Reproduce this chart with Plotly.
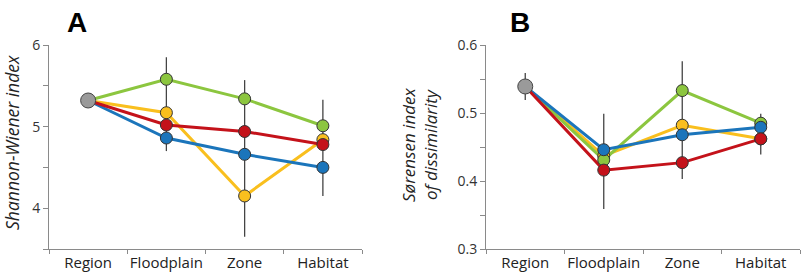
import plotly.graph_objects as go

categories = ["Region", "Floodplain", "Zone", "Habitat"]

# Panel A: Shannon-Wiener index
a_region = 5.32
a_green = [5.32, 5.58, 5.34, 5.01]
a_yellow = [5.32, 5.17, 4.15, 4.84]
a_red = [5.32, 5.02, 4.94, 4.78]
a_blue = [5.32, 4.86, 4.66, 4.50]
a_err_lo = [None, 4.70, 3.65, 4.15]
a_err_hi = [None, 5.85, 5.57, 5.33]

# Panel B: Sorensen index of dissimilarity
b_region = 0.539
b_green = [0.539, 0.431, 0.533, 0.485]
b_yellow = [0.539, 0.437, 0.482, 0.462]
b_red = [0.539, 0.416, 0.427, 0.462]
b_blue = [0.539, 0.446, 0.468, 0.479]
b_err_lo = [0.519, 0.359, 0.403, 0.439]
b_err_hi = [0.559, 0.499, 0.576, 0.499]

COLORS = {"green": "#8cc63f", "yellow": "#f9bf1e", "red": "#c4121a", "blue": "#1b75bb"}
GRAY = "#9a9a9a"
FONT = "Open Sans"

fig = go.Figure()


def add_panel(xa, ya, region, series, lo, hi):
    ex, ey = [], []
    for c, l, h in zip(categories, lo, hi):
        if l is None:
            continue
        ex += [c, c, None]
        ey += [l, h, None]
    fig.add_trace(go.Scatter(x=ex, y=ey, mode="lines", line=dict(color="#444", width=1.3),
                             xaxis=xa, yaxis=ya, showlegend=False, hoverinfo="skip"))
    for name, vals in series:
        fig.add_trace(go.Scatter(x=categories, y=vals, mode="lines", line=dict(color=COLORS[name], width=3),
                                 xaxis=xa, yaxis=ya, showlegend=False))
    for name, vals in series:
        fig.add_trace(go.Scatter(x=categories[1:], y=vals[1:], mode="markers",
                                 marker=dict(color=COLORS[name], size=12, line=dict(color="#333", width=1)),
                                 xaxis=xa, yaxis=ya, showlegend=False))
    fig.add_trace(go.Scatter(x=[categories[0]], y=[region], mode="markers",
                             marker=dict(color=GRAY, size=15, line=dict(color="#444", width=1)),
                             xaxis=xa, yaxis=ya, showlegend=False))


add_panel("x", "y", a_region,
          [("yellow", a_yellow), ("blue", a_blue), ("red", a_red), ("green", a_green)],
          a_err_lo, a_err_hi)
add_panel("x2", "y2", b_region,
          [("yellow", b_yellow), ("green", b_green), ("blue", b_blue), ("red", b_red)],
          b_err_lo, b_err_hi)

H = 277.0
W = 803.0
ydom = [(H - 249) / H, (H - 45) / H]

xcommon = dict(type="category", categoryorder="array", categoryarray=categories,
               range=[-0.5, 3.5], showline=True, linecolor="#8a8a8a", linewidth=1,
               ticks="outside", ticklen=4, tickcolor="#8a8a8a", tickson="boundaries",
               showgrid=False, zeroline=False, tickangle=0, automargin=False,
               tickfont=dict(family=FONT, size=15, color="#222"))
ycommon = dict(showline=True, linecolor="#8a8a8a", linewidth=1, ticks="outside", ticklen=5,
               tickcolor="#8a8a8a", showgrid=False, zeroline=False, automargin=False,
               tickfont=dict(family=FONT, size=14, color="#333"))

fig.update_layout(
    width=803, height=277,
    margin=dict(l=0, r=0, t=0, b=0),
    paper_bgcolor="white", plot_bgcolor="white",
    xaxis=dict(domain=[49 / W, 362 / W], anchor="y", **xcommon),
    xaxis2=dict(domain=[486 / W, 800 / W], anchor="y2", **xcommon),
    yaxis=dict(domain=ydom, anchor="x", range=[3.5, 6],
               tickvals=[3.5, 4, 4.5, 5, 5.5, 6], ticktext=["", "4", "", "5", "", "6"], **ycommon),
    yaxis2=dict(domain=ydom, anchor="x2", range=[0.3, 0.6],
                tickvals=[0.3, 0.35, 0.4, 0.45, 0.5, 0.55, 0.6],
                ticktext=["0.3", "", "0.4", "", "0.5", "", "0.6"], **ycommon),
    annotations=[
        dict(text="<b>A</b>", x=65 / W, y=(H - 23) / H, xref="paper", yref="paper",
             xanchor="left", yanchor="middle", showarrow=False,
             font=dict(family="Liberation Sans", size=28, color="black")),
        dict(text="<b>B</b>", x=508 / W, y=(H - 23) / H, xref="paper", yref="paper",
             xanchor="left", yanchor="middle", showarrow=False,
             font=dict(family="Liberation Sans", size=28, color="black")),
        dict(text="<i>Shannon-Wiener index</i>", x=12 / W, y=(H - 143) / H, xref="paper", yref="paper",
             xanchor="center", yanchor="middle", textangle=-90, showarrow=False,
             font=dict(family=FONT, size=17.5, color="#222")),
        dict(text="<i>Sørensen index<br>of dissimilarity</i>", x=419 / W, y=(H - 145) / H,
             xref="paper", yref="paper", xanchor="center", yanchor="middle", textangle=-90,
             showarrow=False, font=dict(family=FONT, size=17, color="#222")),
    ],
)

fig.write_html("out.html")
